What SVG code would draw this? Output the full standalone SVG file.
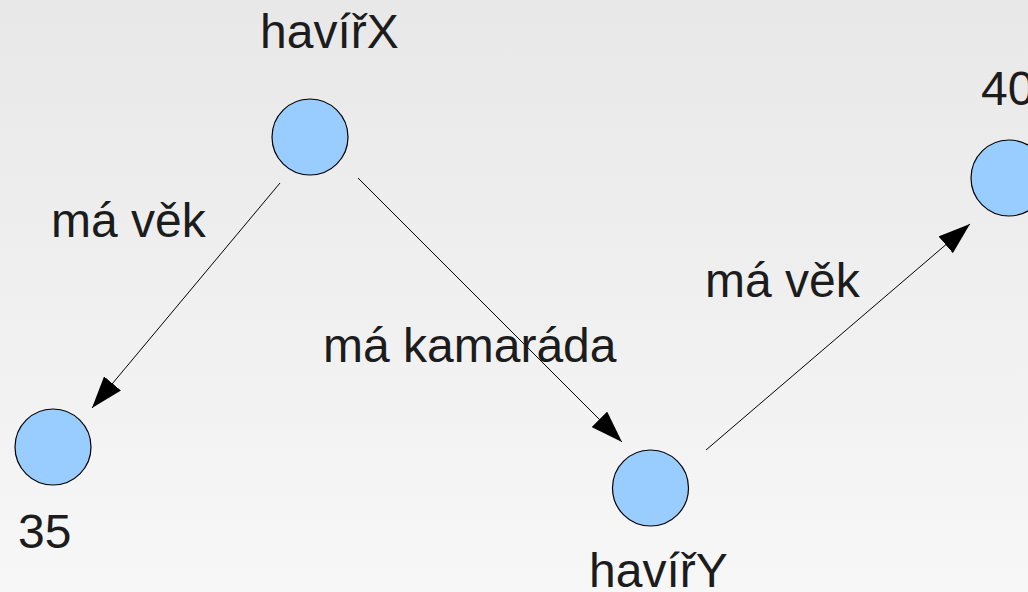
<svg xmlns="http://www.w3.org/2000/svg" width="1028" height="592" viewBox="0 0 1028 592">
  <defs>
    <linearGradient id="bg" x1="0" y1="0" x2="0" y2="1">
      <stop offset="0" stop-color="#e8e8e8"/>
      <stop offset="1" stop-color="#f7f7f7"/>
    </linearGradient>
    <marker id="arrow" viewBox="0 -11 32 22" refX="32" refY="0" markerWidth="32" markerHeight="22" markerUnits="userSpaceOnUse" orient="auto">
      <path d="M0,-11 L32,0 L0,11 z" fill="#000"/>
    </marker>
    <style>
      .node { fill: #99ccff; stroke: #000; stroke-width: 1.2; }
      .label { font-family: "Liberation Sans", Arial, sans-serif; font-size: 48px; fill: #1c1c1c; }
      .edge { stroke: #000; stroke-width: 1; fill: none; marker-end: url(#arrow); }
    </style>
  </defs>

  <rect x="0" y="0" width="1028" height="592" fill="url(#bg)"/>

  <!-- edges -->
  <g id="connectors">
    <line class="edge" x1="280" y1="183" x2="92" y2="408"/>
    <line class="edge" x1="358" y1="178" x2="622" y2="442"/>
    <line class="edge" x1="706" y1="450" x2="970" y2="224"/>
    <text class="label" x="51" y="237">má věk</text>
    <text class="label" x="323" y="362">má kamaráda</text>
    <text class="label" x="705" y="297">má věk</text>
  </g>

  <!-- nodes -->
  <g id="haviX">
    <circle class="node" cx="310" cy="137" r="38"/>
    <text class="label" x="260" y="48">havířX</text>
  </g>
  <g id="age35">
    <circle class="node" cx="53" cy="447" r="38"/>
    <text class="label" x="18" y="548">35</text>
  </g>
  <g id="haviY">
    <circle class="node" cx="650.5" cy="488" r="38"/>
    <text class="label" x="589" y="587">havířY</text>
  </g>
  <g id="age40">
    <circle class="node" cx="1009" cy="178" r="38"/>
    <text class="label" x="981" y="105">40</text>
  </g>
</svg>
